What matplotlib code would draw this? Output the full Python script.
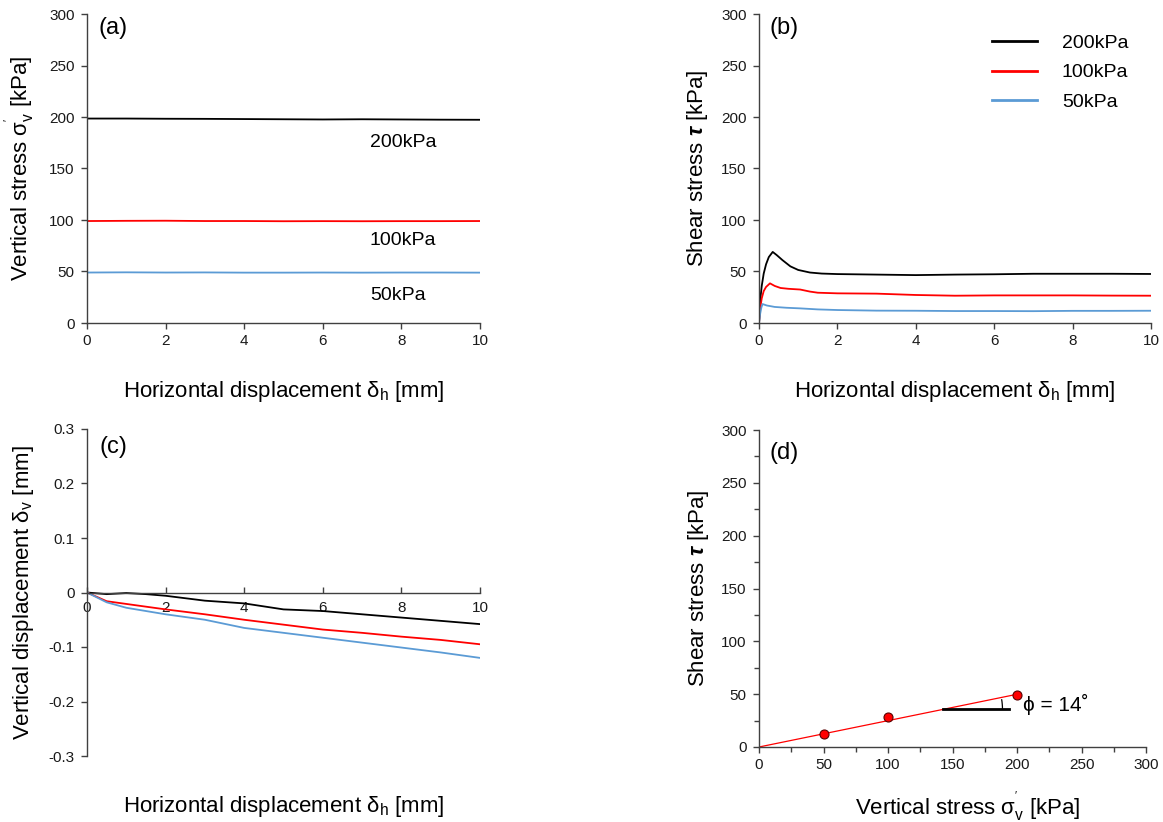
import matplotlib
matplotlib.use("Agg")
import matplotlib.pyplot as plt
from matplotlib.patches import Arc
from matplotlib.ticker import MultipleLocator

plt.rcParams['font.family'] = ['Liberation Sans', 'DejaVu Sans']
plt.rcParams['mathtext.fontset'] = 'custom'
plt.rcParams['mathtext.rm'] = 'Liberation Sans'
plt.rcParams['mathtext.it'] = 'Liberation Sans:italic'
plt.rcParams['mathtext.bf'] = 'Liberation Sans:bold'
plt.rcParams['mathtext.bfit'] = 'Liberation Sans:italic:bold'

# ---------------- data ----------------
labels = ["200kPa", "100kPa", "50kPa"]
colors = ["#000000", "#FF0000", "#5B9BD5"]

# (a) vertical stress vs horizontal displacement
a_x = [0, 1, 2, 3, 4, 5, 6, 7, 8, 9, 10]
a_200 = [198.5, 198.5, 198.3, 198.2, 198.0, 197.8, 197.6, 197.8, 197.6, 197.4, 197.3]
a_100 = [99.0, 99.2, 99.3, 99.0, 99.0, 98.8, 98.9, 98.8, 98.9, 98.9, 99.0]
a_50 = [49.0, 49.2, 49.0, 49.1, 48.9, 48.9, 49.0, 48.9, 49.0, 49.0, 48.9]

# (b) shear stress vs horizontal displacement
b200_x = [0, 0.03, 0.07, 0.12, 0.18, 0.25, 0.35, 0.45, 0.6, 0.8, 1.0, 1.3, 1.6, 2, 3, 4, 5, 6, 7, 8, 9, 10]
b200_y = [0, 22, 36, 48, 57, 64, 69, 66, 61, 55, 51.5, 49, 48, 47.5, 47, 46.5, 47, 47.3, 47.8, 47.8, 47.8, 47.6]
b100_x = [0, 0.03, 0.07, 0.12, 0.18, 0.28, 0.4, 0.55, 0.75, 1.05, 1.3, 1.5, 2, 3, 4, 5, 6, 7, 8, 9, 10]
b100_y = [0, 14, 24, 31, 35, 38.5, 36, 34, 33.2, 32.5, 30.5, 29.4, 28.8, 28.5, 27.2, 26.5, 26.8, 26.8, 26.8, 26.6, 26.5]
b50_x = [0, 0.03, 0.06, 0.09, 0.2, 0.4, 0.7, 1.05, 1.5, 2, 3, 4, 5, 6, 7, 8, 9, 10]
b50_y = [0, 9, 15, 18.4, 17, 15.6, 14.8, 14.2, 13.2, 12.6, 12.0, 11.9, 11.6, 11.6, 11.5, 11.8, 11.8, 11.9]

# (c) vertical displacement vs horizontal displacement
c_x = [0, 0.5, 1, 1.5, 2, 3, 4, 5, 6, 7, 8, 9, 10]
c_200 = [0, -0.003, -0.001, -0.003, -0.006, -0.015, -0.020, -0.031, -0.034, -0.040, -0.046, -0.052, -0.058]
c_100 = [0, -0.016, -0.021, -0.026, -0.031, -0.040, -0.050, -0.059, -0.068, -0.074, -0.081, -0.087, -0.095]
c_50 = [0, -0.018, -0.028, -0.034, -0.040, -0.050, -0.065, -0.074, -0.083, -0.092, -0.101, -0.110, -0.120]

# (d) failure envelope
d_sigma = [50, 100, 200]
d_tau = [12.5, 28.0, 48.8]
d_fit_x = [0, 200]
d_fit_y = [0, 49.9]
phi_text = "ϕ = 14˚"

# ---------------- figure ----------------
fig = plt.figure(figsize=(11.63, 8.22), dpi=100)
W, H = 1163.0, 822.0

def axes_px(x0, x1, ytop, ybot):
    return fig.add_axes([x0 / W, 1 - ybot / H, (x1 - x0) / W, (ybot - ytop) / H])

axA = axes_px(87, 480, 14, 323)
axB = axes_px(759, 1151, 14, 323)
axC = axes_px(87, 480, 429, 756)
axD = axes_px(759, 1146, 430, 747)

spine_col = "#404040"
tick_fs = 11
label_fs = 16
lw = 1.3
sig_lbl = r"$\mathregular{\sigma_v^{'}}$"

def style(ax):
    for s in ["top", "right"]:
        ax.spines[s].set_visible(False)
    for s in ["left", "bottom"]:
        ax.spines[s].set_color(spine_col)
        ax.spines[s].set_linewidth(1.0)
    ax.tick_params(axis="both", which="both", colors=spine_col, labelcolor="#1a1a1a",
                   labelsize=tick_fs, direction="out", length=4, width=1.0)
    ax.tick_params(axis="y", pad=5)
    ax.tick_params(axis="x", pad=4)

# (a)
style(axA)
for y, c in zip([a_200, a_100, a_50], colors):
    axA.plot(a_x, y, color=c, lw=lw)
axA.set_xlim(0, 10)
axA.set_ylim(0, 300)
axA.xaxis.set_major_locator(MultipleLocator(2))
axA.yaxis.set_major_locator(MultipleLocator(50))
axA.text(7.2, 175, "200kPa", fontsize=14, va="center", ha="left")
axA.text(7.2, 80, "100kPa", fontsize=14, va="center", ha="left")
axA.text(7.2, 27, "50kPa", fontsize=14, va="center", ha="left")
axA.text(0.03, 0.99, "(a)", transform=axA.transAxes, fontsize=17, va="top", ha="left")
axA.set_xlabel(r"Horizontal displacement $\mathregular{\delta_h}$ [mm]", fontsize=label_fs)
axA.set_ylabel("Vertical stress " + sig_lbl + " [kPa]", fontsize=label_fs)
axA.xaxis.set_label_coords(0.5, -0.18)
axA.yaxis.set_label_coords(-0.13, 0.5)

# (b)
style(axB)
hb = []
for xs, ys, c, lab in zip([b200_x, b100_x, b50_x], [b200_y, b100_y, b50_y], colors, labels):
    h, = axB.plot(xs, ys, color=c, lw=lw, label=lab)
    hb.append(h)
axB.set_xlim(0, 10)
axB.set_ylim(0, 300)
axB.xaxis.set_major_locator(MultipleLocator(2))
axB.yaxis.set_major_locator(MultipleLocator(50))
leg = axB.legend(handles=hb, loc="upper left", bbox_to_anchor=(0.594, 0.935), frameon=False,
                 fontsize=14, handlelength=2.3, handletextpad=1.3, labelspacing=0.62,
                 borderpad=0, borderaxespad=0)
for l in leg.get_lines():
    l.set_linewidth(2.0)
axB.text(0.028, 0.99, "(b)", transform=axB.transAxes, fontsize=17, va="top", ha="left")
axB.set_xlabel(r"Horizontal displacement $\mathregular{\delta_h}$ [mm]", fontsize=label_fs)
axB.set_ylabel(r"Shear stress $\mathbfit{\tau}$ [kPa]", fontsize=label_fs)
axB.xaxis.set_label_coords(0.5, -0.18)
axB.yaxis.set_label_coords(-0.125, 0.5)

# (c)
style(axC)
axC.spines["bottom"].set_position(("data", 0))
for y, c in zip([c_200, c_100, c_50], colors):
    axC.plot(c_x, y, color=c, lw=lw)
axC.set_xlim(0, 10)
axC.set_ylim(-0.3, 0.3)
axC.xaxis.set_major_locator(MultipleLocator(2))
axC.yaxis.set_major_locator(MultipleLocator(0.1))
axC.yaxis.set_major_formatter(plt.FuncFormatter(lambda v, p: "0" if abs(v) < 1e-9 else f"{v:.1f}"))
axC.tick_params(axis="x", direction="in", pad=6)
axC.text(0.033, 0.98, "(c)", transform=axC.transAxes, fontsize=17, va="top", ha="left")
axC.set_xlabel(r"Horizontal displacement $\mathregular{\delta_h}$ [mm]", fontsize=label_fs)
axC.set_ylabel(r"Vertical displacement $\mathregular{\delta_v}$ [mm]", fontsize=label_fs)
axC.xaxis.set_label_coords(0.5, -0.115)
axC.yaxis.set_label_coords(-0.13, 0.5)

# (d)
style(axD)
axD.plot(d_fit_x, d_fit_y, color="#FF0000", lw=0.9, zorder=2)
axD.plot(d_sigma, d_tau, linestyle="none", marker="o", markersize=6.5,
         markerfacecolor="#FF0000", markeredgecolor="#5a0000", markeredgewidth=0.8, zorder=3)
axD.set_xlim(0, 300)
axD.set_ylim(0, 300)
axD.xaxis.set_major_locator(MultipleLocator(50))
axD.yaxis.set_major_locator(MultipleLocator(50))
axD.xaxis.set_minor_locator(MultipleLocator(25))
axD.yaxis.set_minor_locator(MultipleLocator(25))
axD.tick_params(which="minor", length=3.5)
# angle marker
base_x0, base_x1 = 143, 194
base_y = d_fit_y[1] / d_fit_x[1] * base_x0
axD.plot([base_x0, base_x1], [base_y, base_y], color="black", lw=2.0)
px_per_x = 387 / 300.0
px_per_y = 317 / 300.0
r_px = 59
axD.add_patch(Arc((base_x0, base_y), 2 * r_px / px_per_x, 2 * r_px / px_per_y,
                  theta1=0, theta2=12, color="black", lw=0.9))
axD.text(205, 40, phi_text, fontsize=15, va="center", ha="left")
axD.text(0.028, 0.963, "(d)", transform=axD.transAxes, fontsize=17, va="top", ha="left")
axD.set_xlabel("Vertical stress " + sig_lbl + " [kPa]", fontsize=label_fs)
axD.set_ylabel(r"Shear stress $\mathbfit{\tau}$ [kPa]", fontsize=label_fs)
axD.xaxis.set_label_coords(0.539, -0.135)
axD.yaxis.set_label_coords(-0.125, 0.5)

fig.savefig("out.png", dpi=100)
